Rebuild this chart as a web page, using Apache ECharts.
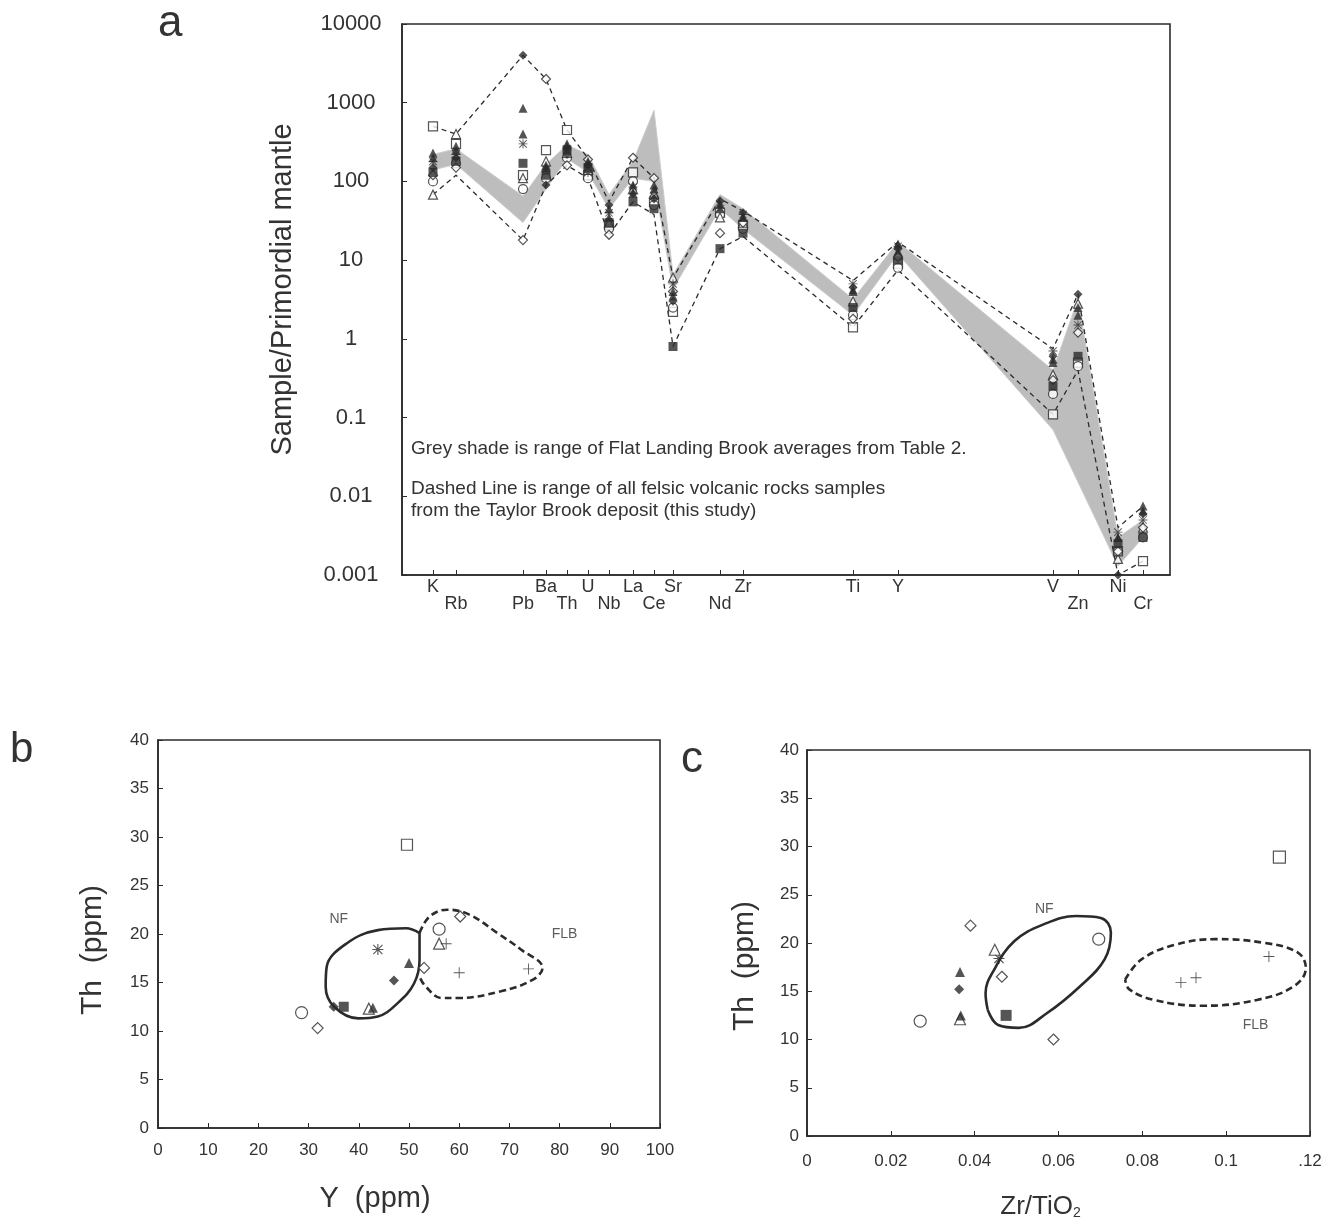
<!DOCTYPE html>
<html>
<head>
<meta charset="utf-8">
<script src="https://cdn.jsdelivr.net/npm/echarts@6/dist/echarts.min.js"></script>
<style>
html, body { margin: 0; padding: 0; background: #fff; }
#chart { width: 1334px; height: 1228px; }
</style>
</head>
<body>
<div id="chart"></div>
<script>
// ---- panel a : spider diagram ----
var elements   = ['K','Rb','Pb','Ba','Th','U','Nb','La','Ce','Sr','Nd','Zr','Ti','Y','V','Zn','Ni','Cr'];
var elementPos = [31, 54, 121, 144, 165, 186, 207, 231, 252, 271, 318, 341, 451, 496, 651, 676, 716, 741];
var elementLow = [0, 1, 1, 0, 1, 0, 1, 0, 1, 0, 1, 0, 0, 0, 0, 1, 0, 1]; // label set one line lower

// samples (Taylor Brook), one array per symbol
var aFilledDiamond  = [150, 200, 4000, 90, 220, 160, 50, 70, 60, 3.0, 57, 40, 4.5, 14, 0.6, 3.7, 0.001, 0.006];
var aFilledSquare   = [130, 180, 170, 120, 250, 150, 30, 55, 45, 0.8, 14, 22, 2.5, 10, 0.25, 0.6, 0.0025, 0.003];
var aFilledTriangle = [200, 250, 850, 150, 280, 170, 35, 90, 80, 3.5, 45, 35, 4.0, 13, 0.5, 2.0, 0.003, 0.0075];
var aFilledTri2     = [230, 280, 400, 160, 300, 180, 45, 70, 90, 4.0, 52, 35, 4.2, 16, 0.55, 2.5, 0.003, 0.0065];
var aOpenTriangle   = [68, 400, 110, 180, 230, 140, 30, 80, 70, 6.0, 35, 30, 3.0, 12, 0.35, 2.8, 0.0016, 0.004];
var aOpenSquare     = [500, 300, 120, 250, 450, 120, 28, 130, 55, 2.2, 40, 28, 1.4, 9, 0.11, 0.5, 0.002, 0.0015];
var aOpenCircle     = [100, 170, 80, 110, 200, 110, 25, 100, 50, 2.5, 38, 25, 2.0, 8, 0.2, 0.45, 0.002, 0.003];
var aOpenDiamond    = [120, 150, 18, 2000, 160, 190, 21, 200, 110, 4.0, 22, 30, 1.8, 11, 0.3, 1.2, 0.002, 0.004];
var aAsterisk       = [180, 220, 300, 140, 260, 130, 40, 85, 65, 5.0, 50, 38, 5.0, 15, 0.7, 1.5, 0.0035, 0.005];

// dashed envelope of all Taylor Brook samples
var tbUpper = [500, 400, 4000, 2000, 450, 195, 55, 200, 110, 6, 60, 42, 5.5, 17, 0.75, 3.7, 0.004, 0.0075];
var tbLower = [68, 120, 18, 90, 160, 110, 21, 55, 38, 0.8, 14, 20, 1.4, 7.5, 0.11, 0.4, 0.001, 0.0015];

// grey band : Flat Landing Brook averages
var flbUpper = [220, 260, 65, 165, 290, 220, 68, 180, 800, 6.5, 68, 45, 3.2, 17, 0.4, 3.2, 0.003, 0.005];
var flbLower = [140, 165, 30, 80, 195, 130, 45, 110, 100, 4.3, 45, 25, 2.0, 12, 0.07, null, 0.0013, 0.003];

// ---- panel b : Th vs Y ----
var bOpenSquare     = [[49.6, 29.2]];
var bOpenCircle     = [[28.6, 11.9], [56, 20.5]];
var bOpenDiamond    = [[31.8, 10.3], [53, 16.5], [60.2, 21.8]];
var bAsterisk       = [[43.8, 18.4]];
var bFilledDiamond  = [[35, 12.5], [47, 15.2]];
var bFilledSquare   = [[37, 12.5]];
var bOpenTriangle   = [[42, 12.3], [56, 19]];
var bFilledTriangle = [[42.8, 12.4], [50, 17]];
var bCross          = [[57.4, 19], [60, 16], [73.8, 16.4]];
var bNF  = [[52.1, 20.1], [49.4, 20.6], [43.8, 20.4], [37.5, 19.0], [33.6, 16.6], [33.4, 14.6], [35.1, 12.5],
            [39.9, 11.3], [43.8, 11.5], [47.8, 12.9], [51, 14.9], [52.1, 17.3], [52.1, 20.1]];
var bFLB = [[52.1, 20.1], [54.1, 21.8], [57.7, 22.5], [62, 22], [67.6, 20.1], [72.3, 18.4], [76.6, 16.5],
            [74.7, 15.3], [68.3, 14.1], [59.7, 13.4], [56.5, 13.4], [53.3, 14.6], [52.1, 15.6]];

// ---- panel c : Th vs Zr/TiO2 ----
var cOpenSquare     = [[0.1127, 28.9]];
var cOpenCircle     = [[0.027, 11.9], [0.0696, 20.4]];
var cOpenDiamond    = [[0.039, 21.8], [0.0465, 16.5], [0.0588, 10.0]];
var cAsterisk       = [[0.0458, 18.4]];
var cFilledDiamond  = [[0.0363, 15.2]];
var cFilledSquare   = [[0.0475, 12.5]];
var cOpenTriangle   = [[0.0448, 19.3], [0.0365, 12.1]];
var cFilledTriangle = [[0.0365, 17.0], [0.0367, 12.5]];
var cCross          = [[0.0892, 15.9], [0.0928, 16.4], [0.1102, 18.6]];
var cNF  = [[0.0431, 13.1], [0.0426, 14.8], [0.0446, 17.2], [0.0495, 20.2], [0.0563, 21.9], [0.0642, 22.8],
            [0.0701, 22.6], [0.0725, 21.1], [0.071, 18.3], [0.0651, 15.5], [0.0573, 12.75], [0.0505, 11.2],
            [0.0456, 11.5], [0.0431, 13.1]];
var cFLB = [[0.0759, 16.2], [0.0798, 18.3], [0.0877, 19.8], [0.0975, 20.4], [0.1093, 20.0], [0.1171, 19.0],
            [0.119, 17.4], [0.1161, 15.5], [0.1073, 14.1], [0.0945, 13.5], [0.0828, 14.1], [0.0769, 15.2], [0.0759, 16.2]];
var cTickLabels = ['0', '0.02', '0.04', '0.06', '0.08', '0.1', '.12'];

var chart = echarts.init(document.getElementById('chart'));
var FONT = '"Liberation Sans", Arial, sans-serif';
var INK = '#2b2b2b';
var TXT = '#333';

var SYMBOLS = {
    asterisk: 'path://M4.5,0h1v10h-1z M0,4.5h10v1h-10z M1.2,0.5L9.5,8.8L8.8,9.5L0.5,1.2z M8.8,0.5L9.5,1.2L1.2,9.5L0.5,8.8z',
    cross: 'path://M4.6,0h0.8v10h-0.8z M0,4.6h10v0.8h-10z'
};

function styleFor(filled) {
    return filled ? { color: INK, borderWidth: 0 } : { color: '#fff', borderColor: INK, borderWidth: 1.2 };
}

function scatter(grid, data, shape, filled, size) {
    var sym = SYMBOLS[shape] || shape;
    return {
        type: 'scatter', xAxisIndex: grid, yAxisIndex: grid, data: data,
        symbol: sym, symbolSize: size, itemStyle: styleFor(filled || !!SYMBOLS[shape]),
        z: 4, silent: true
    };
}

function curve(grid, data, dashed) {
    return {
        type: 'line', xAxisIndex: grid, yAxisIndex: grid, data: data, smooth: 0.4,
        symbol: 'none', lineStyle: { color: INK, width: 2.6, type: dashed ? [7, 4] : 'solid' },
        z: 3, silent: true
    };
}

function textPoint(grid, pos, text) {
    return {
        type: 'scatter', xAxisIndex: grid, yAxisIndex: grid, data: [pos], symbolSize: 0, silent: true,
        label: { show: true, position: 'inside', formatter: text, color: TXT, fontSize: 14, fontFamily: FONT }
    };
}

function pairs(vals) {
    return elementPos.map(function (x, i) { return [x, vals[i]]; });
}

var series = [];

// grey band
series.push({
    type: 'custom', xAxisIndex: 0, yAxisIndex: 0, data: [[0, 1]], silent: true, z: 1,
    renderItem: function (params, api) {
        var pts = [];
        for (var i = 0; i < elements.length; i++) {
            if (flbUpper[i] != null) pts.push(api.coord([elementPos[i], flbUpper[i]]));
        }
        for (var j = elements.length - 1; j >= 0; j--) {
            if (flbLower[j] != null) pts.push(api.coord([elementPos[j], flbLower[j]]));
        }
        return { type: 'polygon', shape: { points: pts }, style: { fill: '#bdbdbd', stroke: '#cccccc', lineWidth: 1 } };
    }
});

// dashed envelopes
[tbUpper, tbLower].forEach(function (vals) {
    series.push({
        type: 'line', xAxisIndex: 0, yAxisIndex: 0, data: pairs(vals), symbol: 'none', silent: true, z: 2,
        lineStyle: { color: INK, width: 1.3, type: [5, 4] }
    });
});

var aSamples = [
    [aOpenSquare, 'rect', false], [aOpenCircle, 'circle', false], [aOpenTriangle, 'triangle', false],
    [aOpenDiamond, 'diamond', false], [aFilledSquare, 'rect', true], [aFilledTriangle, 'triangle', true],
    [aFilledTri2, 'triangle', true], [aAsterisk, 'asterisk', true], [aFilledDiamond, 'diamond', true]
];
aSamples.forEach(function (s) { series.push(scatter(0, pairs(s[0]), s[1], s[2], 9)); });

// panel b
series.push(curve(1, bNF, false), curve(1, bFLB, true));
series.push(
    scatter(1, bOpenSquare, 'rect', false, 11), scatter(1, bOpenCircle, 'circle', false, 12),
    scatter(1, bOpenDiamond, 'diamond', false, 11), scatter(1, bAsterisk, 'asterisk', true, 11),
    scatter(1, bFilledDiamond, 'diamond', true, 10), scatter(1, bFilledSquare, 'rect', true, 10),
    scatter(1, bOpenTriangle, 'triangle', false, 11), scatter(1, bFilledTriangle, 'triangle', true, 10),
    scatter(1, bCross, 'cross', true, 11),
    textPoint(1, [36, 21.5], 'NF'), textPoint(1, [81, 20], 'FLB')
);

// panel c
series.push(curve(2, cNF, false), curve(2, cFLB, true));
series.push(
    scatter(2, cOpenSquare, 'rect', false, 12), scatter(2, cOpenCircle, 'circle', false, 12),
    scatter(2, cOpenDiamond, 'diamond', false, 11), scatter(2, cAsterisk, 'asterisk', true, 11),
    scatter(2, cFilledDiamond, 'diamond', true, 10), scatter(2, cFilledSquare, 'rect', true, 11),
    scatter(2, cOpenTriangle, 'triangle', false, 11), scatter(2, cFilledTriangle, 'triangle', true, 10),
    scatter(2, cCross, 'cross', true, 11),
    textPoint(2, [0.0566, 23.5], 'NF'), textPoint(2, [0.107, 11.5], 'FLB')
);

var boxGrid = { show: true, borderColor: INK, borderWidth: 1.6, backgroundColor: 'transparent' };
var axLine = { show: true, lineStyle: { color: INK, width: 1.6 } };
var tick = { show: true, inside: true, length: 5, lineStyle: { color: INK } };
var lbl = { color: TXT, fontFamily: FONT, fontSize: 17 };

chart.setOption({
    backgroundColor: '#fff',
    animation: false,
    textStyle: { fontFamily: FONT },
    grid: [
        Object.assign({ left: 402, right: 164, top: 24, bottom: 653 }, boxGrid),
        Object.assign({ left: 158, right: 674, top: 740, bottom: 100 }, boxGrid),
        Object.assign({ left: 807, right: 24, top: 750, bottom: 92 }, boxGrid)
    ],
    xAxis: [
        {
            type: 'value', gridIndex: 0, min: 0, max: 768,
            axisLine: axLine, splitLine: { show: false },
            axisTick: Object.assign({ customValues: elementPos }, tick),
            axisLabel: {
                customValues: elementPos, margin: 4, color: TXT, fontFamily: FONT, fontSize: 18, lineHeight: 17,
                formatter: function (v) {
                    var i = elementPos.indexOf(v);
                    if (i < 0) return '';
                    return elementLow[i] ? '\n' + elements[i] : elements[i];
                }
            }
        },
        {
            type: 'value', gridIndex: 1, min: 0, max: 100, interval: 10,
            axisLine: axLine, splitLine: { show: false }, axisTick: tick,
            axisLabel: Object.assign({ margin: 14 }, lbl),
            name: 'Y  (ppm)', nameLocation: 'middle', nameGap: 56,
            nameTextStyle: { color: TXT, fontSize: 29, fontFamily: FONT, padding: [0, 68, 0, 0] }
        },
        {
            type: 'value', gridIndex: 2, min: 0, max: 0.12, interval: 0.02,
            axisLine: axLine, splitLine: { show: false }, axisTick: tick,
            axisLabel: Object.assign({
                margin: 17,
                formatter: function (v) { return cTickLabels[Math.round(v / 0.02)]; }
            }, lbl),
            name: '{n|Zr/TiO}{s|2}', nameLocation: 'middle', nameGap: 58,
            nameTextStyle: {
                color: TXT, fontFamily: FONT, padding: [0, 36, 0, 0],
                rich: {
                    n: { fontSize: 26, color: TXT, fontFamily: FONT },
                    s: { fontSize: 14, color: TXT, fontFamily: FONT, verticalAlign: 'bottom', padding: [12, 0, 0, 0] }
                }
            }
        }
    ],
    yAxis: [
        {
            type: 'log', gridIndex: 0, min: 0.001, max: 10000, logBase: 10, splitNumber: 7,
            axisLine: axLine, splitLine: { show: false }, axisTick: tick,
            axisLabel: {
                color: TXT, fontFamily: FONT, fontSize: 22, align: 'center', margin: 51,
                formatter: function (v) { return v >= 1 ? String(Math.round(v)) : String(+v.toPrecision(1)); }
            },
            name: 'Sample/Primordial mantle', nameLocation: 'middle', nameGap: 105,
            nameTextStyle: { color: TXT, fontSize: 29, fontFamily: FONT, padding: [0, 0, 0, 20] }
        },
        {
            type: 'value', gridIndex: 1, min: 0, max: 40, interval: 5,
            axisLine: axLine, splitLine: { show: false }, axisTick: tick,
            axisLabel: Object.assign({ margin: 9 }, lbl),
            name: 'Th  (ppm)', nameLocation: 'middle', nameGap: 50,
            nameTextStyle: { color: TXT, fontSize: 30, fontFamily: FONT, padding: [0, 32, 0, 0] }
        },
        {
            type: 'value', gridIndex: 2, min: 0, max: 40, interval: 5,
            axisLine: axLine, splitLine: { show: false }, axisTick: tick,
            axisLabel: Object.assign({ margin: 8 }, lbl),
            name: 'Th  (ppm)', nameLocation: 'middle', nameGap: 47,
            nameTextStyle: { color: TXT, fontSize: 30, fontFamily: FONT, padding: [0, 46, 0, 0] }
        }
    ],
    graphic: [
        { type: 'text', left: 158, top: 2, style: { text: 'a', fontSize: 44, fontFamily: FONT, fill: TXT } },
        { type: 'text', left: 10, top: 729, style: { text: 'b', fontSize: 42, fontFamily: FONT, fill: TXT } },
        { type: 'text', left: 681, top: 738, style: { text: 'c', fontSize: 44, fontFamily: FONT, fill: TXT } },
        { type: 'text', left: 411, top: 439, style: { text: 'Grey shade is range of Flat Landing Brook averages from Table 2.', fontSize: 19, fontFamily: FONT, fill: TXT } },
        { type: 'text', left: 411, top: 479, style: { text: 'Dashed Line is range of all felsic volcanic rocks samples', fontSize: 19, fontFamily: FONT, fill: TXT } },
        { type: 'text', left: 411, top: 501, style: { text: 'from the Taylor Brook deposit (this study)', fontSize: 19, fontFamily: FONT, fill: TXT } }
    ],
    series: series
});
</script>
</body>
</html>
